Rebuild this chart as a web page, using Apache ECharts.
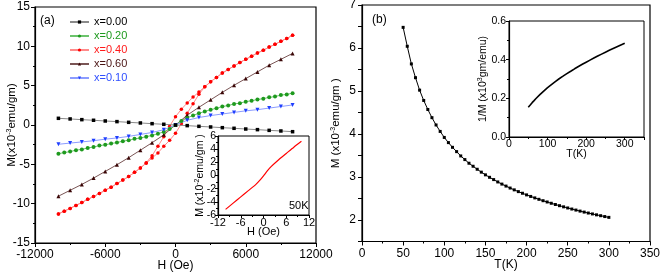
<!DOCTYPE html>
<html>
<head>
<meta charset="utf-8">
<script src="https://cdn.jsdelivr.net/npm/echarts@6/dist/echarts.min.js"></script>
<style>html,body{margin:0;padding:0;background:#fff;}#c{width:661px;height:275px;}</style>
</head>
<body>
<div id="c"></div>
<script>
// ---------- Panel (a): M vs H ----------
const H_step1k = [-10000,-9000,-8000,-7000,-6000,-5000,-4000,-3000,-2000,-1000,0,1000,2000,3000,4000,5000,6000,7000,8000,9000,10000];
const M_x000 = [0.85,0.77,0.68,0.60,0.51,0.43,0.34,0.26,0.17,0.09,0.00,-0.08,-0.17,-0.25,-0.34,-0.42,-0.51,-0.59,-0.68,-0.76,-0.85];
const M_x060 = [-9.05,-8.30,-7.55,-6.75,-5.90,-5.05,-4.15,-3.20,-2.25,-1.25,0.00,1.25,2.25,3.20,4.15,5.05,5.90,6.75,7.60,8.35,9.10];
const M_x010 = [-2.45,-2.30,-2.15,-2.00,-1.80,-1.65,-1.45,-1.20,-0.95,-0.60,0.00,0.60,0.95,1.20,1.40,1.60,1.80,1.95,2.15,2.35,2.55];

const H_step500 = [-10000,-9500,-9000,-8500,-8000,-7500,-7000,-6500,-6000,-5500,-5000,-4500,-4000,-3500,-3000,-2500,-2000,-1500,-1000,-500,0,500,1000,1500,2000,2500,3000,3500,4000,4500,5000,5500,6000,6500,7000,7500,8000,8500,9000,9500,10000];
const M_x020 = [-3.65,-3.50,-3.38,-3.20,-3.10,-2.92,-2.80,-2.62,-2.52,-2.35,-2.24,-2.05,-1.95,-1.76,-1.65,-1.48,-1.32,-1.10,-0.88,-0.50,0.00,0.52,0.90,1.22,1.48,1.72,1.95,2.12,2.35,2.48,2.68,2.78,2.97,3.08,3.24,3.35,3.52,3.62,3.80,3.88,4.05];
// x=0.40 hysteresis loop: ascending branch (-10000 -> 10000) and descending branch (10000 -> -10000), both listed at H_step500
const M_x040_up = [-11.30,-10.95,-10.60,-10.22,-9.85,-9.45,-9.10,-8.70,-8.30,-7.90,-7.45,-7.00,-6.55,-6.02,-5.48,-4.85,-4.20,-3.55,-2.70,-1.95,-1.05,0.15,1.50,2.70,3.90,4.85,5.50,6.05,6.60,7.05,7.50,7.95,8.35,8.75,9.15,9.50,9.90,10.25,10.65,11.00,11.40];
const M_x040_down = [-11.30,-10.95,-10.60,-10.22,-9.85,-9.45,-9.10,-8.70,-8.30,-7.90,-7.45,-7.00,-6.55,-6.02,-5.48,-4.80,-3.90,-2.70,-1.50,-0.15,1.05,2.00,2.80,3.55,4.20,4.85,5.50,6.05,6.60,7.05,7.50,7.95,8.35,8.75,9.15,9.50,9.90,10.25,10.65,11.00,11.40];

// inset of (a): 50K
const H_inset = [-10,-8,-6,-4,-2,-1,0,1,2,4,6,8,10];
const M_inset = [-5.15,-4.20,-3.25,-2.30,-1.35,-0.75,-0.05,0.70,1.35,2.40,3.35,4.30,5.20];

// ---------- Panel (b): M vs T ----------
const T_vals = [50,55,60,65,70,75,80,85,90,95,100,105,110,115,120,125,130,135,140,145,150,155,160,165,170,175,180,185,190,195,200,205,210,215,220,225,230,235,240,245,250,255,260,265,270,275,280,285,290,295,300];
const M_T = [6.480,6.040,5.630,5.310,5.020,4.780,4.570,4.380,4.210,4.060,3.920,3.800,3.690,3.590,3.490,3.405,3.320,3.250,3.180,3.113,3.050,2.993,2.940,2.885,2.835,2.789,2.743,2.701,2.660,2.622,2.584,2.548,2.514,2.481,2.449,2.419,2.389,2.360,2.333,2.306,2.280,2.255,2.231,2.207,2.184,2.162,2.141,2.120,2.100,2.080,2.061];

// tick settings [min, max, interval]
const ticksA_x = [-12000, 12000, 6000];
const ticksA_y = [-15, 15, 5];
const ticksAi_x = [-12, 12, 6];
const ticksAi_y = [-6, 6, 2];
const ticksB_x = [0, 350, 50];
const ticksB_y = [1.5, 7, 0.5];
const ticksBi_x = [0, 350, 100];
const ticksBi_y = [0, 0.6, 0.2];

const FF = 'Liberation Sans, Arial, sans-serif';
const pair = (xs, ys) => xs.map((x, i) => [x, ys[i]]);
const redData = pair(H_step500, M_x040_down).reverse().concat(pair(H_step500, M_x040_up));
const plain = v => String(v);

function axis(gi, r, opts) {
  return Object.assign({
    type: 'value', gridIndex: gi, min: r[0], max: r[1], interval: r[2],
    nameMoveOverlap: false,
    axisLine: {show: true, onZero: false, lineStyle: {color: '#000', width: 1.2}},
    axisTick: {show: true, inside: false, length: 4, lineStyle: {color: '#000'}},
    minorTick: {show: true, splitNumber: 2, length: 2, lineStyle: {color: '#000'}},
    splitLine: {show: false},
    axisLabel: {color: '#000', fontFamily: FF, fontSize: 12, margin: 5, formatter: plain},
    nameTextStyle: {color: '#000', fontFamily: FF, fontSize: 12}
  }, opts || {});
}
function rich(fs) {
  return {
    b: {fontSize: fs, fontFamily: FF, color: '#000'},
    s: {fontSize: Math.round(fs * 0.65), fontFamily: FF, color: '#000', verticalAlign: 'top', lineHeight: fs + 2}
  };
}
const gridBase = {show: true, borderColor: '#000', containLabel: false, outerBoundsMode: 'none'};

const chart = echarts.init(document.getElementById('c'), null, {renderer: 'canvas'});
chart.setOption({
  animation: false,
  backgroundColor: '#fff',
  grid: [
    Object.assign({left: 35, top: 7, width: 281, height: 236, borderWidth: 1.2, backgroundColor: 'transparent', z: 0}, gridBase),
    Object.assign({left: 218, top: 136, width: 91, height: 79, borderWidth: 1, backgroundColor: '#fff', z: 5}, gridBase),
    Object.assign({left: 362, top: 5, width: 288, height: 236.5, borderWidth: 1.2, backgroundColor: 'transparent', z: 0}, gridBase),
    Object.assign({left: 509, top: 21, width: 135, height: 116, borderWidth: 1, backgroundColor: '#fff', z: 5}, gridBase)
  ],
  xAxis: [
    axis(0, ticksA_x, {name: 'H (Oe)', nameLocation: 'middle', nameGap: 17,
      axisLabel: {color: '#000', fontFamily: FF, fontSize: 12, margin: 6, formatter: plain}}),
    axis(1, ticksAi_x, {name: 'H (Oe)', nameLocation: 'middle', nameGap: 11, z: 6,
      axisTick: {length: 3, lineStyle: {color: '#000'}}, minorTick: {show: true, splitNumber: 2, length: 2},
      axisLabel: {color: '#000', fontFamily: FF, fontSize: 11, margin: 2, formatter: plain},
      nameTextStyle: {color: '#000', fontFamily: FF, fontSize: 11}}),
    axis(2, ticksB_x, {name: 'T(K)', nameLocation: 'middle', nameGap: 17,
      axisLabel: {color: '#000', fontFamily: FF, fontSize: 12, margin: 6, formatter: plain}}),
    axis(3, ticksBi_x, {name: 'T(K)', nameLocation: 'middle', nameGap: 12, z: 6,
      axisTick: {length: 3, lineStyle: {color: '#000'}}, minorTick: {show: true, splitNumber: 2, length: 2},
      axisLabel: {color: '#000', fontFamily: FF, fontSize: 10.5, margin: 2, showMaxLabel: false, formatter: plain},
      nameTextStyle: {color: '#000', fontFamily: FF, fontSize: 10.5}})
  ],
  yAxis: [
    axis(0, ticksA_y, {name: '{b|M(x10}{s|-3}{b|emu/gm)}', nameLocation: 'middle', nameGap: 16, nameRotate: 90,
      nameTextStyle: {rich: rich(11.5)}}),
    axis(1, ticksAi_y, {name: '{b|M (x10}{s|-2}{b|emu/gm )}', nameLocation: 'middle', nameGap: 12, nameRotate: 90, z: 6,
      axisTick: {length: 3, lineStyle: {color: '#000'}}, minorTick: {show: true, splitNumber: 2, length: 2},
      axisLabel: {color: '#000', fontFamily: FF, fontSize: 10.5, margin: 2, formatter: plain}, nameTextStyle: {rich: rich(10.5)}}),
    axis(2, ticksB_y, {name: '{b|M (x10}{s|-3}{b|emu/gm )}', nameLocation: 'middle', nameGap: 19, nameRotate: 90,
      minorTick: {show: false},
      axisLabel: {color: '#000', fontFamily: FF, fontSize: 12, margin: 6,
        formatter: v => (Math.abs(v - Math.round(v)) < 1e-6 && v > 1.6) ? String(Math.round(v)) : ''},
      nameTextStyle: {rich: rich(11.5)}}),
    axis(3, ticksBi_y, {name: '{b|1/M (x10}{s|3}{b|gm/emu)}', nameLocation: 'middle', nameGap: 20, nameRotate: 90, z: 6,
      axisTick: {length: 3, lineStyle: {color: '#000'}}, minorTick: {show: true, splitNumber: 2, length: 2},
      axisLabel: {color: '#000', fontFamily: FF, fontSize: 10.5, margin: 3, formatter: v => v.toFixed(1)},
      nameTextStyle: {rich: rich(10.5)}})
  ],
  legend: {
    orient: 'vertical', left: 64, top: 11, itemWidth: 19, itemHeight: 4, itemGap: 2,
    textStyle: {fontFamily: FF, fontSize: 11, lineHeight: 12},
    data: [
      {name: 'x=0.00', textStyle: {color: '#000'}},
      {name: 'x=0.20', textStyle: {color: '#1e9a1e'}},
      {name: 'x=0.40', textStyle: {color: '#ff1a1a'}},
      {name: 'x=0.60', textStyle: {color: '#4a1414'}},
      {name: 'x=0.10', textStyle: {color: '#2f4fff'}}
    ]
  },
  graphic: [
    {type: 'text', left: 40, top: 15, style: {text: '(a)', fontFamily: FF, fontSize: 12, fill: '#000'}},
    {type: 'text', left: 372, top: 14, style: {text: '(b)', fontFamily: FF, fontSize: 12, fill: '#000'}},
    {type: 'text', left: 289, top: 200, z: 10, style: {text: '50K', fontFamily: FF, fontSize: 11, fill: '#000'}}
  ],
  series: [
    {name: 'x=0.40', type: 'line', xAxisIndex: 0, yAxisIndex: 0, data: redData, symbol: 'circle', symbolSize: 3.5,
      itemStyle: {color: '#ff0000'}, lineStyle: {color: '#ff8a8a', width: 1}, z: 2},
    {name: 'x=0.60', type: 'line', xAxisIndex: 0, yAxisIndex: 0, data: pair(H_step1k, M_x060), symbol: 'triangle', symbolSize: 4,
      itemStyle: {color: '#3a0606'}, lineStyle: {color: '#7a5555', width: 1}, z: 3},
    {name: 'x=0.20', type: 'line', xAxisIndex: 0, yAxisIndex: 0, data: pair(H_step500, M_x020), symbol: 'circle', symbolSize: 4,
      itemStyle: {color: '#1e9a1e'}, lineStyle: {color: '#6cc46c', width: 1}, z: 4},
    {name: 'x=0.10', type: 'line', xAxisIndex: 0, yAxisIndex: 0, data: pair(H_step1k, M_x010), symbol: 'triangle', symbolRotate: 180, symbolSize: 4,
      itemStyle: {color: '#1f3fff'}, lineStyle: {color: '#8c9cff', width: 1}, z: 4},
    {name: 'x=0.00', type: 'line', xAxisIndex: 0, yAxisIndex: 0, data: pair(H_step1k, M_x000), symbol: 'rect', symbolSize: 3.5,
      itemStyle: {color: '#000'}, lineStyle: {color: '#8a8a8a', width: 1}, z: 5},
    {name: 'inset50K', type: 'line', xAxisIndex: 1, yAxisIndex: 1, data: pair(H_inset, M_inset), symbol: 'none', smooth: 0.2,
      lineStyle: {color: '#ff0000', width: 1.2}, z: 7},
    {name: 'MT', type: 'line', xAxisIndex: 2, yAxisIndex: 2, data: pair(T_vals, M_T), symbol: 'rect', symbolSize: 3,
      itemStyle: {color: '#000'}, lineStyle: {color: '#000', width: 1}, z: 2},
    {name: 'invMT', type: 'line', xAxisIndex: 3, yAxisIndex: 3, data: T_vals.map((t, i) => [t, 1 / M_T[i]]), symbol: 'none',
      lineStyle: {color: '#000', width: 1.6}, z: 7}
  ]
});
</script>
</body>
</html>
